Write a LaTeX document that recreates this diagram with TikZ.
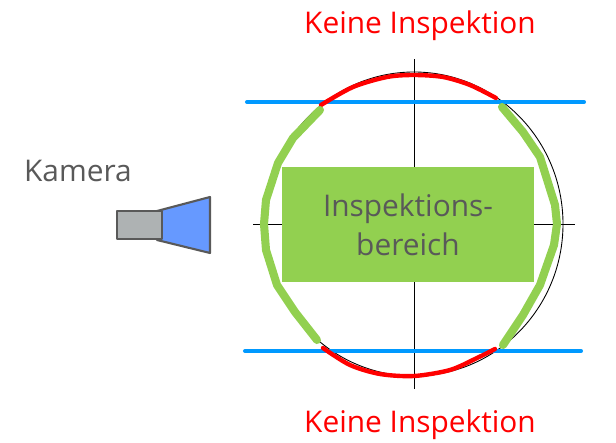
\documentclass[tikz,border=0pt]{standalone}
\usepackage{fontspec}
\setmainfont{Open Sans}
\usetikzlibrary{positioning}
\definecolor{inspgreen}{HTML}{92D050}
\definecolor{linkblue}{HTML}{0099FF}
\definecolor{lensblue}{HTML}{6699FF}
\definecolor{bodygrey}{HTML}{AEB2B3}
\definecolor{edgegrey}{HTML}{595959}
\tikzset{
  axisline/.style={black,line width=0.5pt},
  limitline/.style={linkblue,line width=2.3pt,line cap=round},
  redarc/.style={red,line width=2.5pt,line cap=round},
  greenarc/.style={inspgreen,line width=4.6pt,line cap=round,line join=round},
  camerapart/.style={draw=edgegrey,line width=1.2pt,line join=round},
  redlabel/.style={text=red,font=\fontsize{17}{20}\selectfont},
  greylabel/.style={text=edgegrey,font=\fontsize{17}{20}\selectfont,align=center}
}
\begin{document}
\begin{tikzpicture}[x=0.02cm,y=-0.02cm]
    \useasboundingbox (0,0) rectangle (616,443);
    \coordinate(M) at (414,224);
    \coordinate(T) at (414,59);
    \coordinate(B) at (414,389);
    \coordinate(L) at (253,224);
    \coordinate(R) at (575,224);

    % axes and outline
    \draw[axisline] (T) -- (B);
    \draw[axisline] (L) -- (R);
    \draw[axisline] (M) ellipse (149 and 152);

    % inspection area
    \node[fill=inspgreen,inner sep=0pt,minimum width=5.04cm,minimum height=2.3cm,greylabel] (area) at (408,224.5) {Inspektions-\\[2pt]bereich};

    % limits
    \coordinate(A1) at (247,102);
    \coordinate(A2) at (584,102);
    \coordinate(C1) at (245,351);
    \coordinate(C2) at (581,351);
    \draw[limitline] (A1) -- (A2);
    \draw[limitline] (C1) -- (C2);

    \draw[redarc] plot[smooth] coordinates {(321,105) (353,87) (387,77) (414,75) (443,77) (470,85) (496,98)};
    \draw[redarc] plot[smooth] coordinates {(323,348) (350,365) (380,374) (414,376) (450,370) (477,358) (495,349)};

    \draw[greenarc] (320,110) -- (293,138) -- (278,163) -- (266,200) -- (264,224) -- (266,250) -- (277,285) -- (295,312) -- (317,340);
    \draw[greenarc] (502,107) -- (523,132) -- (540,157) -- (555,205) -- (557,224) -- (554,245) -- (540,285) -- (523,315) -- (503,345);

    % camera
    \draw[camerapart,fill=lensblue] (157,211) -- (210,197) -- (210,253) -- (157,240) -- cycle;
    \node[camerapart,fill=bodygrey,inner sep=0pt,minimum width=0.9cm,minimum height=0.56cm] (body) at (139.5,225) {};

    \node[greylabel] (kamera) at (78,171) {Kamera};
    \node[redlabel] (top) at (420,26) {Keine Inspektion};
    \node[redlabel] (bottom) at (420,425) {Keine Inspektion};
\end{tikzpicture}
\end{document}
